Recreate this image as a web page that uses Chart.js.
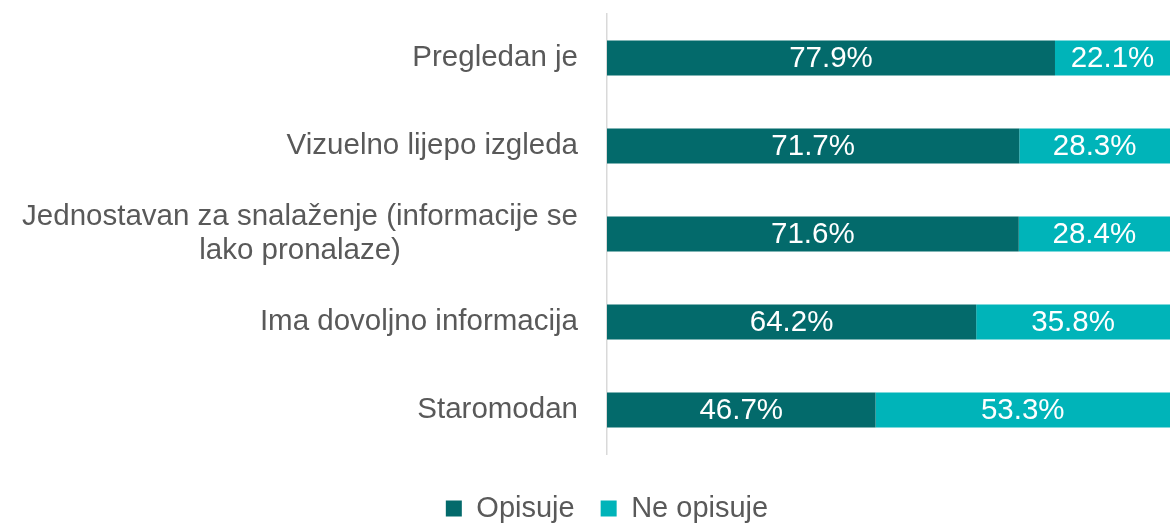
<!DOCTYPE html>
<html lang="hr">
<head>
  <meta charset="UTF-8">
  <title>Opisuje / Ne opisuje</title>
  <script src="https://cdn.jsdelivr.net/npm/chart.js"></script>
  <style>
    html, body {
      margin: 0;
      padding: 0;
      background: #fff;
      overflow: hidden;
    }
  </style>
</head>
<body>
  <canvas id="opisChart" width="1170" height="523"></canvas>

  <script>
    const categories = [
      'Pregledan je',
      'Vizuelno lijepo izgleda',
      ['Jednostavan za snalaženje (informacije se', 'lako pronalaze)'],
      'Ima dovoljno informacija',
      'Staromodan'
    ];
    const opisuje = [77.9, 71.7, 71.6, 64.2, 46.7];
    const neOpisuje = [22.1, 28.3, 28.4, 35.8, 53.3];

    const textGray = '#595959';
    const fontFamily = '"Liberation Sans", Arial, sans-serif';

    // category names drawn beside the axis; wrapped names are centred on each other
    const categoryLabels = {
      id: 'categoryLabels',
      afterDraw(chart) {
        const ctx = chart.ctx;
        const yScale = chart.scales.y;
        const rightEdge = yScale.right - 29;
        const lineHeight = 34;
        ctx.save();
        ctx.fillStyle = textGray;
        ctx.font = '29.5px ' + fontFamily;
        ctx.textBaseline = 'middle';
        categories.forEach((label, i) => {
          const y = yScale.getPixelForTick(i);
          const lines = Array.isArray(label) ? label : [label];
          if (lines.length === 1) {
            ctx.textAlign = 'right';
            ctx.fillText(lines[0], rightEdge, y);
            return;
          }
          const maxW = Math.max(...lines.map(l => ctx.measureText(l).width));
          const cx = rightEdge - maxW / 2;
          const top = y - (lines.length - 1) * lineHeight / 2;
          ctx.textAlign = 'center';
          lines.forEach((l, j) => ctx.fillText(l, cx, top + j * lineHeight));
        });
        ctx.restore();
      }
    };

    // percentage in the middle of the visible part of each segment
    const segmentLabels = {
      id: 'segmentLabels',
      afterDatasetsDraw(chart) {
        const ctx = chart.ctx;
        const area = chart.chartArea;
        ctx.save();
        ctx.fillStyle = '#ffffff';
        ctx.font = '29.5px ' + fontFamily;
        ctx.textAlign = 'center';
        ctx.textBaseline = 'middle';
        chart.data.datasets.forEach((ds, di) => {
          chart.getDatasetMeta(di).data.forEach((bar, i) => {
            const left = Math.max(Math.min(bar.x, bar.base), area.left);
            const right = Math.min(Math.max(bar.x, bar.base), area.right);
            ctx.fillText(ds.data[i].toFixed(1) + '%', (left + right) / 2, bar.y + 1);
          });
        });
        ctx.restore();
      }
    };

    // push the legend row a bit further below the bars
    const legendOffset = {
      id: 'legendOffset',
      afterLayout(chart) {
        if (!chart.legend) return;
        chart.legend.top += 14;
        chart.legend.bottom += 14;
      }
    };

    const chart = new Chart(document.getElementById('opisChart'), {
      type: 'bar',
      data: {
        labels: categories,
        datasets: [
          {
            label: 'Opisuje',
            data: opisuje,
            backgroundColor: '#036a6b',
            barPercentage: 0.4,
            categoryPercentage: 1
          },
          {
            label: 'Ne opisuje',
            data: neOpisuje,
            backgroundColor: '#00b4b9',
            barPercentage: 0.4,
            categoryPercentage: 1
          }
        ]
      },
      options: {
        indexAxis: 'y',
        responsive: false,
        animation: false,
        layout: {
          padding: { left: 44, top: 14, bottom: 4 }
        },
        scales: {
          x: {
            stacked: true,
            min: 0,
            max: 97.9,
            display: false
          },
          y: {
            stacked: true,
            grid: { display: false },
            border: { display: true, color: '#d9d9d9', width: 1.5 },
            ticks: { display: false },
            afterFit(scale) {
              scale.width = 563;
            }
          }
        },
        plugins: {
          legend: {
            position: 'bottom',
            labels: {
              boxWidth: 16,
              boxHeight: 16,
              padding: 26,
              color: textGray,
              font: { family: fontFamily, size: 29 }
            }
          },
          tooltip: { enabled: false },
          title: { display: false }
        }
      },
      plugins: [categoryLabels, segmentLabels, legendOffset]
    });
  </script>
</body>
</html>
